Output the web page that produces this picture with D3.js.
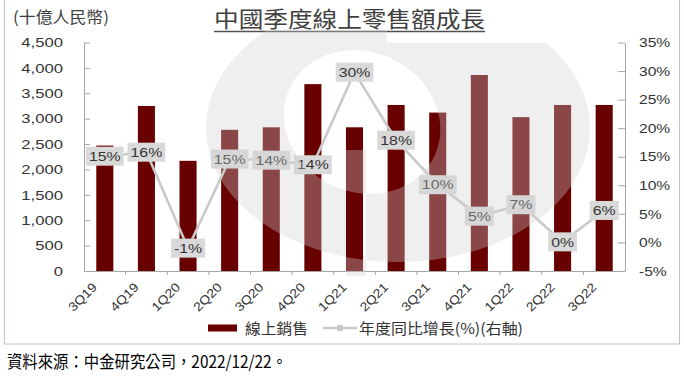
<!DOCTYPE html>
<html><head><meta charset="utf-8">
<script src="https://cdn.jsdelivr.net/npm/d3@7/dist/d3.min.js"></script>
<style>
html,body{margin:0;padding:0;background:#fff;}
svg{display:block;}
</style></head>
<body>
<svg id="chart" width="684" height="380"></svg>
<script>
// ---- data ----
const categories = ["3Q19","4Q19","1Q20","2Q20","3Q20","4Q20","1Q21","2Q21","3Q21","4Q21","1Q22","2Q22","3Q22"];
const onlineSales = [2470, 3250, 2170, 2780, 2830, 3680, 2830, 3270, 3120, 3860, 3030, 3270, 3270];
const yoyGrowth = [15.1, 15.8, -1.0, 14.6, 14.4, 13.6, 29.8, 17.9, 10.1, 4.6, 6.6, 0.1, 5.6];
const leftTicks = [0, 500, 1000, 1500, 2000, 2500, 3000, 3500, 4000, 4500];
const rightTicks = [-5, 0, 5, 10, 15, 20, 25, 30, 35];
const titleText = "中國季度線上零售額成長";
const unitText = "(十億人民幣)";
const legendBar = "線上銷售";
const legendLine = "年度同比增長(%)(右軸)";
const sourceText = "資料來源：中金研究公司，2022/12/22。";

const svg = d3.select("#chart");
const latin = "'Liberation Sans', Arial, sans-serif";
const cjk = "'Noto Sans CJK TC', 'Noto Sans CJK SC', sans-serif";
const barColor = "#680000";
const lineColor = "#c9c9c9";

function stretch(sel, f){
  sel.each(function(){ const l = this.getComputedTextLength(); d3.select(this).attr("textLength", l*f).attr("lengthAdjust","spacingAndGlyphs"); });
}

const L = 84, R = 625, T = 42.5, B = 271;
const x = d3.scaleBand().domain(categories).range([L, R]).paddingInner(0.59).paddingOuter(0.295);
const yL = d3.scaleLinear().domain([0, 4500]).range([B, T]);
const yR = d3.scaleLinear().domain([-5, 35]).range([B, T]);

// frame
svg.append("rect").attr("x",4.5).attr("y",-2).attr("width",675).attr("height",346)
  .attr("fill","none").attr("stroke","#cdbcbc").attr("stroke-width",1);

// unit label
svg.append("text").attr("x",13).attr("y",23).text(unitText)
  .attr("font-family",cjk).attr("font-size",16).attr("fill","#404040")
  .attr("textLength",96).attr("lengthAdjust","spacingAndGlyphs");

// title
svg.append("text").attr("x",214).attr("y",27).text(titleText)
  .attr("font-family",cjk).attr("font-size",22).attr("fill","#404040")
  .attr("textLength",271).attr("lengthAdjust","spacingAndGlyphs");
svg.append("line").attr("x1",214).attr("x2",485).attr("y1",31.5).attr("y2",31.5)
  .attr("stroke","#505050").attr("stroke-width",1.5);

// left axis
const axL = svg.append("g").attr("transform",`translate(${L},0)`)
  .call(d3.axisLeft(yL).tickValues(leftTicks).tickSizeInner(-6).tickSizeOuter(0).tickPadding(21).tickFormat(d3.format(",")));
axL.select(".domain").attr("stroke","#a6a6a6");
axL.selectAll(".tick line").attr("stroke","#a6a6a6");
axL.selectAll("text").attr("font-family",latin).attr("font-size",13).attr("fill","#333").call(stretch,1.28);

// right axis
const axR = svg.append("g").attr("transform",`translate(${R},0)`)
  .call(d3.axisRight(yR).tickValues(rightTicks).tickSizeInner(-7).tickSizeOuter(0).tickPadding(14).tickFormat(d=>d+"%"));
axR.select(".domain").attr("stroke","#a6a6a6");
axR.selectAll(".tick line").attr("stroke","#a6a6a6");
axR.selectAll("text").attr("font-family",latin).attr("font-size",13).attr("fill","#333").call(stretch,1.2);

// bars
svg.append("g").selectAll("rect").data(categories).join("rect")
  .attr("x",d=>x(d)).attr("width",x.bandwidth())
  .attr("y",(d,i)=>yL(onlineSales[i])).attr("height",(d,i)=>yL(0)-yL(onlineSales[i]))
  .attr("fill",barColor);

// x axis
svg.append("line").attr("x1",L).attr("x2",R).attr("y1",B+0.5).attr("y2",B+0.5).attr("stroke","#a6a6a6");
const step = x.step();
svg.append("g").selectAll("line").data(categories.slice(1)).join("line")
  .attr("x1",d=>x(d)-step*x.paddingInner()/2).attr("x2",d=>x(d)-step*x.paddingInner()/2)
  .attr("y1",B).attr("y2",B+4).attr("stroke","#a6a6a6");
svg.append("g").selectAll("text").data(categories).join("text")
  .attr("transform",d=>`translate(${x(d)+x.bandwidth()/2-7},288) rotate(-45)`)
  .attr("text-anchor","end").attr("font-family",latin).attr("font-size",12.5).attr("fill","#333")
  .text(d=>d).call(stretch,1.12);

// line
const cx = d=>x(d)+x.bandwidth()/2;
svg.append("path").datum(categories)
  .attr("d", d3.line().x(d=>cx(d)).y((d,i)=>yR(yoyGrowth[i])))
  .attr("fill","none").attr("stroke",lineColor).attr("stroke-width",2.6);
svg.append("g").selectAll("rect").data(categories).join("rect")
  .attr("x",d=>cx(d)-3).attr("y",(d,i)=>yR(yoyGrowth[i])-3).attr("width",6).attr("height",6).attr("fill",lineColor);

// data labels
const lab = svg.append("g").selectAll("g").data(categories).join("g")
  .attr("transform",(d,i)=>`translate(${cx(d)},${yR(yoyGrowth[i])})`);
lab.append("rect").attr("fill","#d9d9d9");
lab.append("text").attr("text-anchor","middle").attr("dy","0.36em")
  .attr("font-family",latin).attr("font-size",13).attr("fill","#333")
  .text((d,i)=>Math.round(yoyGrowth[i])+"%").call(stretch,1.22);
lab.each(function(){
  const t = d3.select(this).select("text").node();
  const w = +t.getAttribute("textLength");
  d3.select(this).select("rect").attr("x",-w/2-3).attr("y",-9.5).attr("width",w+6).attr("height",19);
});

// watermark (decorative logo)
const defs = svg.append("defs");
defs.append("clipPath").attr("id","wmclip").append("polygon")
  .attr("points","238,30 387,30 387,43 640,43 640,276 190,276 190,55 238,55");
function ellipsePath(cx0,cy0,rx,ry,rot){
  const pts=[]; const a=rot*Math.PI/180;
  for(let k=0;k<72;k++){const t=k/72*2*Math.PI; const ex=rx*Math.cos(t), ey=ry*Math.sin(t);
    pts.push([cx0+ex*Math.cos(a)-ey*Math.sin(a), cy0+ex*Math.sin(a)+ey*Math.cos(a)]);}
  return "M"+pts.map(p=>p.join(",")).join("L")+"Z";
}
const wm = ellipsePath(398,128,192,134,0) + ellipsePath(362,122,80,70,25) + "M346,150L366,150L366,280L346,280Z";
svg.append("path").attr("d",wm).attr("fill-rule","evenodd").attr("clip-path","url(#wmclip)")
  .attr("fill","#cfcfcf").attr("fill-opacity",0.34);

// legend
svg.append("rect").attr("x",208).attr("y",324.5).attr("width",29).attr("height",7).attr("fill",barColor);
svg.append("text").attr("x",245).attr("y",334).text(legendBar)
  .attr("font-family",cjk).attr("font-size",15).attr("fill","#333")
  .attr("textLength",63).attr("lengthAdjust","spacingAndGlyphs");
svg.append("line").attr("x1",323).attr("x2",357).attr("y1",328).attr("y2",328).attr("stroke",lineColor).attr("stroke-width",2.6);
svg.append("rect").attr("x",337).attr("y",325).attr("width",6).attr("height",6).attr("fill",lineColor);
svg.append("text").attr("x",359).attr("y",334).text(legendLine)
  .attr("font-family",cjk).attr("font-size",15).attr("fill","#333")
  .attr("textLength",164).attr("lengthAdjust","spacingAndGlyphs");

// source
svg.append("text").attr("x",7).attr("y",368).text(sourceText)
  .attr("font-family",cjk).attr("font-size",17).attr("fill","#000")
  .attr("textLength",280).attr("lengthAdjust","spacingAndGlyphs");
</script>
</body></html>
